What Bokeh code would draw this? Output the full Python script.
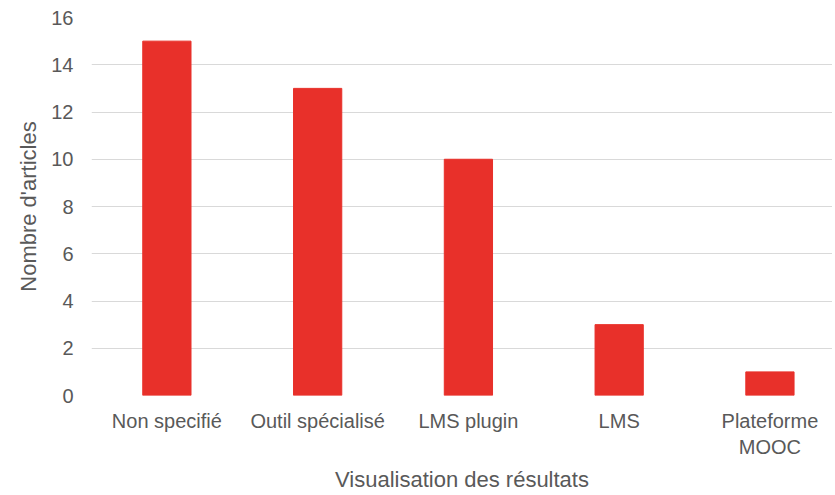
from bokeh.plotting import figure
from bokeh.models import Range1d, FixedTicker
from bokeh.embed import file_html
from bokeh.resources import INLINE

categories = ["Non specifié", "Outil spécialisé", "LMS plugin", "LMS", "Plateforme\nMOOC"]
values = [15, 13, 10, 3, 1]
y_ticks = [0, 2, 4, 6, 8, 10, 12, 14, 16]

FONT = "Liberation Sans"
TXT = "#595959"

idx = list(range(len(categories)))

p = figure(x_range=Range1d(-0.5, 4.415), y_range=Range1d(0, 16), width=832, height=494,
           output_backend="svg", toolbar_location=None,
           min_border_left=91, min_border_right=0, min_border_top=17, min_border_bottom=40)

p.vbar(x=idx, top=values, width=0.32, color="#E8302A", line_color="#E8302A")

p.outline_line_color = None
p.xgrid.grid_line_color = None
p.ygrid.grid_line_color = "#d9d9d9"
p.ygrid.grid_line_width = 1
p.yaxis.ticker = FixedTicker(ticks=y_ticks)
p.xaxis.ticker = FixedTicker(ticks=idx)
p.xaxis.major_label_overrides = {i: c for i, c in zip(idx, categories)}

for ax in (p.xaxis[0], p.yaxis[0]):
    ax.axis_line_color = None
    ax.major_tick_line_color = None
    ax.minor_tick_line_color = None
    ax.major_tick_out = 0
    ax.major_tick_in = 0
    ax.major_label_text_font = FONT
    ax.major_label_text_font_size = "20px"
    ax.major_label_text_color = TXT
    ax.axis_label_text_font = FONT
    ax.axis_label_text_font_size = "22px"
    ax.axis_label_text_color = TXT
    ax.axis_label_text_font_style = "normal"

p.xaxis.axis_label = "Visualisation des résultats"
p.yaxis.axis_label = "Nombre d'articles"
p.yaxis.major_label_standoff = 18
p.xaxis.major_label_standoff = 14
p.xaxis.axis_label_standoff = 6
p.yaxis.axis_label_standoff = 7

open("out.html", "w").write(file_html(p, INLINE))
